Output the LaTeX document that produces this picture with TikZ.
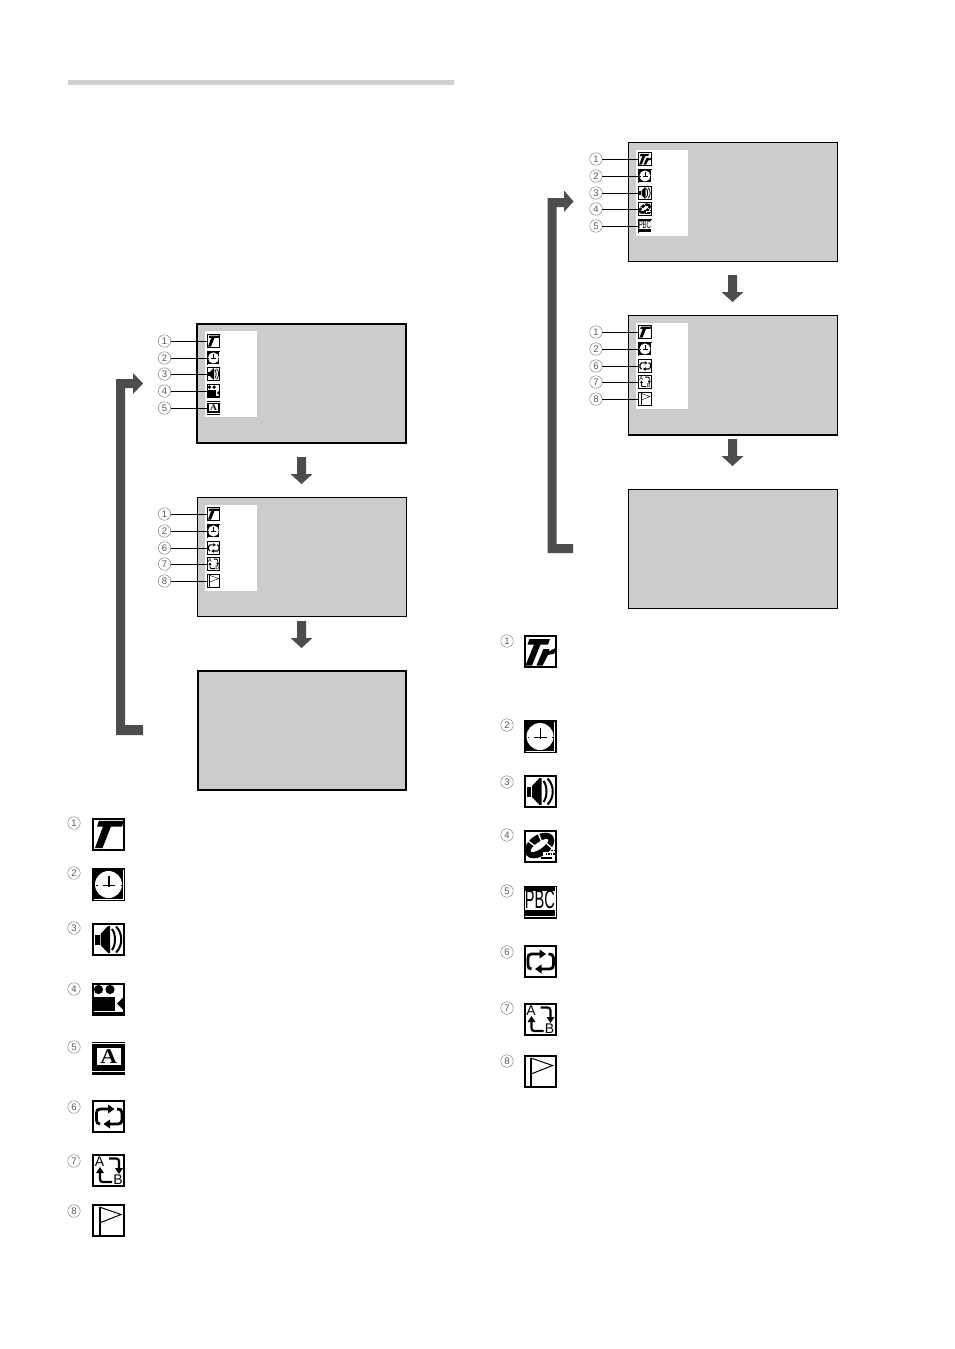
\documentclass[tikz,border=0pt]{standalone}
\usepackage{fontspec}
\setmainfont{Liberation Sans}
\newfontfamily\serifbf{Liberation Serif}
\definecolor{scr}{HTML}{CCCCCC}
\definecolor{arr}{HTML}{4D4D4D}
\definecolor{rulecol}{HTML}{D0D0D0}
\tikzset{
  x=1pt,y=-1pt,
  screenbox/.style={draw=black,fill=scr,inner sep=0,outer sep=0,anchor=north west},
  panelbox/.style={fill=white,inner sep=0,outer sep=0,anchor=north west},
  numc/.style={circle,draw=black!55,line width=.4pt,inner sep=0,minimum size=12.5pt,font=\fontsize{9.5}{9.5}\selectfont,text=black!65},
  numl/.style={numc},
  iconspot/.style={inner sep=0,outer sep=0,minimum size=13pt},
  calloutline/.style={line width=.9pt,black},
  bigarrow/.style={fill=arr,draw=none},
}
% icons drawn in a 33 x 33 unit square; \ics is the scale for line widths
\newcommand\frm{\draw[line width=\ics*2pt,fill=white] (1,1) rectangle (32,32);}
\newcommand\icT{\frm
  \fill (7,3.3)--(32,3.3)--(30,9)--(19,9)--(10.5,30.5)--(3,30.5)--(11,9)--(5,9)--cycle;}
\newcommand\icTr{\frm
  \fill (6,4)--(26.5,4)--(24.5,9.5)--(17,9.5)--(8.5,30.5)--(2,30.5)--(10.5,9.5)--(4,9.5)--cycle;
  \fill (20,14)--(26,14)--(25.3,16.5)--(32,13)--(31,18.5)--(24.5,20)--(19,30.5)--(13,30.5)--cycle;}
\newcommand\icClock{\fill (0,0) rectangle (33,33);
  \draw[white,line width=\ics*.8pt] (2,31.3)--(31.3,31.3)--(31.3,2);
  \fill[white] (16.5,16.5) circle (13.5);
  \draw[line width=\ics*1.7pt] (17,8)--(17,19) (10.5,17.5)--(23,17.5);
  \draw[line width=\ics*1.5pt] (4,17.5)--(5.5,17.5) (28.5,17.5)--(30,17.5);}
\newcommand\icSpeaker{\frm
  \fill (3,11.5) rectangle (7.5,22);
  \fill (8.5,11)--(16,3)--(18,3)--(18,30)--(16,30)--(8.5,22)--cycle;
  \draw[line width=\ics*2pt] (20,6) .. controls (24,11) and (24,22) .. (20,27);
  \draw[line width=\ics*2pt] (24,3.5) .. controls (31,10) and (31,23) .. (24,29.5);}
\newcommand\icCamera{\frm
  \fill (6.5,7) circle (4.6) (18,7) circle (4.6);
  \fill (1.5,14) rectangle (23,28);
  \fill (25,21)--(32,14)--(32,28)--cycle;
  \fill (1,29) rectangle (32,33);}
\newcommand\icA{\fill (0,0) rectangle (33,33);
  \draw[white,line width=\ics*1pt] (0,1.7)--(33,1.7) (0,29.7)--(33,29.7);
  \fill[white] (5,6) rectangle (28.5,23.5);
  \node[font=\fontsize{21}{21}\selectfont\serifbf\bfseries,inner sep=0,xscale=1.1,transform shape] (glA) at (16.7,15) {A};}
\newcommand\icRepeat{\frm
  \draw[line width=\ics*2.8pt] (8,24) .. controls (5.5,24) and (4.5,22.5) .. (4.5,20)--(4.5,13) .. controls (4.5,10.5) and (5.5,9) .. (8,9)--(17,9);
  \fill (16,4.5)--(22.5,9)--(16,13.5)--cycle;
  \draw[line width=\ics*2.8pt] (25,9) .. controls (28.5,9) and (30,10.5) .. (30,13)--(30,20) .. controls (30,22.5) and (28.5,24) .. (26,24)--(17,24);
  \fill (18,19.5)--(11.5,24)--(18,28.5)--cycle;}
\newcommand\icAB{\frm
  \node[font=\fontsize{14}{14}\selectfont,inner sep=0,transform shape] (glLa) at (7.5,8) {A};
  \node[font=\fontsize{14}{14}\selectfont,inner sep=0,transform shape] (glLb) at (26,25.5) {B};
  \draw[line width=\ics*2.2pt] (17,4.5)--(24,4.5) .. controls (26,4.5) and (27,5.5) .. (27,7.5)--(27,15);
  \fill (23,14)--(31,14)--(27,20)--cycle;
  \draw[line width=\ics*2.2pt] (20,28)--(11,28) .. controls (9,28) and (8,27) .. (8,25)--(8,18);
  \fill (4,19)--(12,19)--(8,13)--cycle;}
\newcommand\icFlag{\frm
  \draw[line width=\ics*2pt] (7.5,3)--(7.5,31);
  \draw[line width=\ics*1pt] (7.5,3)--(29,10.5)--(7.5,19);}
\newcommand\icDisc{\frm
  \begin{scope}[shift={(16,15.5)},rotate=35]
    \fill (0,0) ellipse (16.5 and 10.5);
    \fill[white] (0,0) ellipse (10.5 and 3.3);
    \draw[white,line width=\ics*1.4pt] (-7,-11)--(-4,-2) (7,2)--(9,11) (6,-11)--(4,-2);
  \end{scope}
  \fill[white] (19,21.5) rectangle (31,31);
  \draw[line width=\ics*1.3pt,dash pattern=on 1.6*\ics pt off 1*\ics pt] (25,20.5)--(31,20.5) (22,24)--(31,24);
  \draw[line width=\ics*1.5pt] (17,28)--(28,28);}
\newcommand\icPBC{\fill (0,0) rectangle (33,33);
  \draw[white,line width=\ics*.8pt] (1,30.5)--(31.8,30.5)--(31.8,1);
  \fill[white] (1.5,5) rectangle (31,24);
  \node[font=\fontsize{26}{26}\selectfont,inner sep=0,xscale=.56,transform shape] (glP) at (16.3,14.3) {PBC};}
\newcommand\drawicon[4]{\begin{scope}[shift={(#2,#3)},scale=#4]\def\ics{#4}\csname ic#1\endcsname\end{scope}}
\newcommand\vertarrow[2]{% centre x, top y
  \fill[arr] (#1-4.5,#2)--(#1+4.5,#2)--(#1+4.5,#2+17)--(#1+11,#2+17)--(#1,#2+27)--(#1-11,#2+17)--(#1-4.5,#2+17)--cycle;}
\begin{document}
\begin{tikzpicture}
\useasboundingbox (0,0) rectangle (954,1349);
\fill[white] (0,0) rectangle (954,1349);
\fill[rulecol] (68,80) rectangle (454,85);
% screens
\foreach \nm/\xx/\yy/\lw/\ww/\hh in {sa/197/324/2/209/119,sb/197/497/0.9/209/119,sc/198/671/1.4/208/119,sd/628/142/0.8/209/119,se/628/315/0.8/209/120,sf/628/489/0.8/209/119}
  \node[screenbox,line width=\lw pt,minimum width=\ww pt,minimum height=\hh pt] (\nm) at (\xx,\yy) {};
\draw[line width=1.5pt] (se.south west) -- (se.south east);
% white panels
\foreach \nm/\xx/\yy in {pa/205/331,pb/205/505,pd/636/150,pe/636/323}
  \node[panelbox,minimum width=52pt,minimum height=86pt] (\nm) at (\xx,\yy) {};
% call-outs and small icons
\foreach \nm/\lab/\ic/\yy in {a1/1/T/341,a2/2/Clock/358,a3/3/Speaker/374,a4/4/Camera/391,a5/5/A/408,b1/1/T/514,b2/2/Clock/531,b6/6/Repeat/548,b7/7/AB/564,b8/8/Flag/581}{
  \node[numc] (n\nm) at (164.5,\yy) {\lab};
  \node[iconspot] (i\nm) at (213.5,\yy) {};
  \draw[calloutline] (n\nm) -- (i\nm.west);
  \drawicon{\ic}{206.7}{\yy-6.8}{.41}
}
\foreach \nm/\lab/\ic/\yy in {d1/1/Tr/159,d2/2/Clock/176,d3/3/Speaker/193,d4/4/Disc/209,d5/5/PBC/226,e1/1/T/332,e2/2/Clock/349,e6/6/Repeat/366,e7/7/AB/382,e8/8/Flag/399}{
  \node[numc] (n\nm) at (596,\yy) {\lab};
  \node[iconspot] (i\nm) at (645,\yy) {};
  \draw[calloutline] (n\nm) -- (i\nm.west);
  \drawicon{\ic}{638.2}{\yy-6.8}{.41}
}
% arrows
\vertarrow{301.5}{457}
\vertarrow{301.5}{621}
\vertarrow{732.5}{275}
\vertarrow{732.5}{439}
\fill[bigarrow] (143,735)--(116,735)--(116,379)--(133,379)--(133,373)--(143,383.5)--(133,394)--(133,388)--(125,388)--(125,725)--(143,725)--cycle;
\fill[bigarrow] (573,553)--(547.5,553)--(547.5,198)--(564,198)--(564,190.5)--(573.5,201.5)--(564,212)--(564,207)--(556.5,207)--(556.5,544)--(573,544)--cycle;
% lists
\foreach \nm/\lab/\ic/\yn/\yi in {la/1/T/823/817.5,lb/2/Clock/873/868,lc/3/Speaker/928/923,ld/4/Camera/989/982.5,le/5/A/1047/1041.5,lf/6/Repeat/1107/1100,lg/7/AB/1161/1154,lh/8/Flag/1211/1204}{
  \node[numl] (\nm) at (74,\yn) {\lab};
  \drawicon{\ic}{92}{\yi}{1}
}
\foreach \nm/\lab/\ic/\yn/\yi in {ra/1/Tr/641/635,rb/2/Clock/725/720,rc/3/Speaker/782/775,rd/4/Disc/835/830,re/5/PBC/891/885.5,rf/6/Repeat/952/945,rg/7/AB/1008/1003,rh/8/Flag/1061/1055}{
  \node[numl] (\nm) at (507,\yn) {\lab};
  \drawicon{\ic}{523.5}{\yi}{1}
}
\end{tikzpicture}
\end{document}
